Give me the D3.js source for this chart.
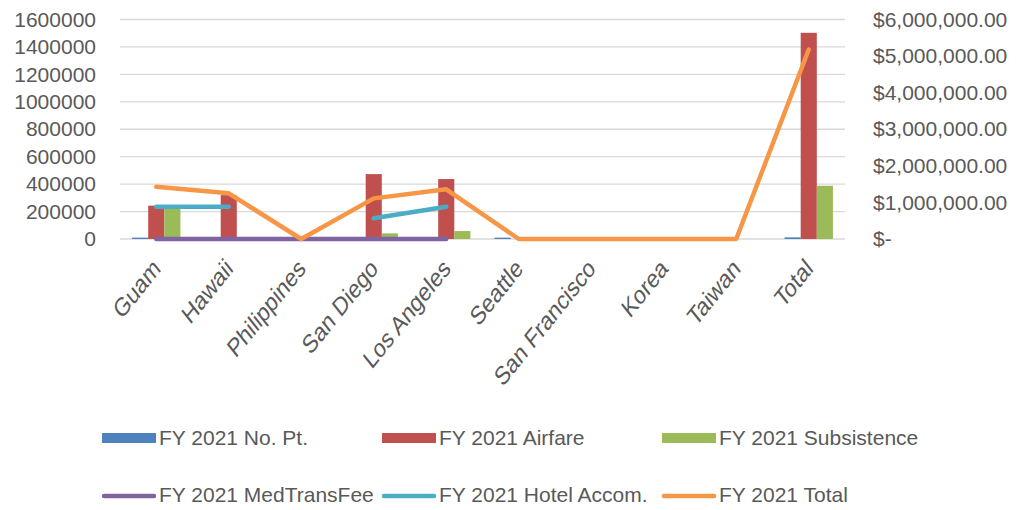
<!DOCTYPE html>
<html>
<head>
<meta charset="utf-8">
<script src="https://cdn.jsdelivr.net/npm/d3@7"></script>
<style>
  body { margin: 0; background: #fff; }
  svg { display: block; font-family: "Liberation Sans", Arial, sans-serif; }
</style>
</head>
<body>
<div id="chart"></div>
<script>
// values
var categories = ["Guam", "Hawaii", "Philippines", "San Diego", "Los Angeles", "Seattle", "San Francisco", "Korea", "Taiwan", "Total"];
var noPt        = [10000, 10000, 0, 10000, 10000, 10000, 0, 0, 0, 12000];
var airfare     = [243000, 320000, 0, 473000, 437000, 0, 0, 0, 0, 1503000];
var subsistence = [225000, 0, 0, 41000, 58000, 0, 0, 0, 0, 388000];
var medTransFee = [0, 0, 0, 0, 0, null, null, null, null, null];
var hotel       = [235000, 235000, null, 151000, 235000, null, null, null, null, null];
var fyTotal     = [1428000, 1248000, 0, 1110000, 1357000, 0, 0, 0, 0, 5180000];

var leftTicks  = [0, 200000, 400000, 600000, 800000, 1000000, 1200000, 1400000, 1600000];
var rightTicks = [0, 1000000, 2000000, 3000000, 4000000, 5000000, 6000000];

var barSeries = [
    { name: "FY 2021 No. Pt.", values: noPt, color: "#4f81bd" },
    { name: "FY 2021 Airfare", values: airfare, color: "#c0504d" },
    { name: "FY 2021 Subsistence", values: subsistence, color: "#9bbb59" }
];
var lineSeries = [
    { name: "FY 2021 MedTransFee", values: medTransFee, color: "#8064a2", axis: "left" },
    { name: "FY 2021 Hotel Accom.", values: hotel, color: "#4bacc6", axis: "left" },
    { name: "FY 2021 Total", values: fyTotal, color: "#f79646", axis: "right" }
];

var width = 1031, height = 510;
var plot = { left: 120, right: 845, top: 19.5, bottom: 239 };
var textColor = "#595959";
var fontSize = 21;

var svg = d3.select("#chart").append("svg")
    .attr("width", width)
    .attr("height", height);

var x = d3.scaleBand()
    .domain(categories)
    .range([plot.left, plot.right]);

// gap width 150% -> 3 bars + 1.5 bar of gap per category
var xInner = d3.scaleBand()
    .domain(barSeries.map(s => s.name))
    .range([0, x.bandwidth() * 3 / 4.5]);
var groupOffset = x.bandwidth() * 0.75 / 4.5;

var yLeft = d3.scaleLinear().domain([0, 1600000]).range([plot.bottom, plot.top]);
var yRight = d3.scaleLinear().domain([0, 6000000]).range([plot.bottom, plot.top]);

// gridlines
svg.append("g")
    .selectAll("line")
    .data(leftTicks)
    .enter()
    .append("line")
    .attr("x1", plot.left)
    .attr("x2", plot.right)
    .attr("y1", d => yLeft(d))
    .attr("y2", d => yLeft(d))
    .style("stroke", "#d9d9d9")
    .style("stroke-width", 1.3);

// left axis
var gLeft = svg.append("g")
    .attr("transform", "translate(" + plot.left + ",0)")
    .call(d3.axisLeft(yLeft).tickValues(leftTicks).tickFormat(d3.format("d")).tickSize(0).tickPadding(24));
gLeft.select(".domain").remove();
gLeft.selectAll("text")
    .style("font-size", fontSize + "px")
    .style("font-family", "'Liberation Sans', Arial, sans-serif")
    .style("fill", textColor);

// right axis
var money = d3.format(",.2f");
var gRight = svg.append("g")
    .attr("transform", "translate(" + plot.right + ",0)")
    .call(d3.axisRight(yRight).tickValues(rightTicks)
        .tickFormat(d => d === 0 ? "$-" : "$" + money(d))
        .tickSize(0).tickPadding(28));
gRight.select(".domain").remove();
gRight.selectAll("text")
    .style("font-size", fontSize + "px")
    .style("font-family", "'Liberation Sans', Arial, sans-serif")
    .style("fill", textColor);

// category labels, rotated (the source is a bit squeezed sideways, so squeeze too)
svg.append("g")
    .selectAll("text")
    .data(categories)
    .enter()
    .append("text")
    .attr("transform", d => "translate(" + (x(d) + x.bandwidth() / 2 + 5.5) + ",270) scale(0.8,1) rotate(-45)")
    .attr("text-anchor", "end")
    .style("font-size", "26px")
    .style("fill", textColor)
    .text(d => d);

// bars
barSeries.forEach(function (s) {
    svg.append("g")
        .selectAll("rect")
        .data(s.values)
        .enter()
        .append("rect")
        .attr("x", (d, i) => x(categories[i]) + groupOffset + xInner(s.name))
        .attr("width", xInner.bandwidth())
        .attr("y", d => yLeft(d))
        .attr("height", d => yLeft(0) - yLeft(d))
        .style("fill", s.color);
});

// lines
lineSeries.forEach(function (s) {
    var yScale = s.axis === "right" ? yRight : yLeft;
    var line = d3.line()
        .defined(d => d !== null)
        .x((d, i) => x(categories[i]) + x.bandwidth() / 2)
        .y(d => yScale(d));
    svg.append("path")
        .datum(s.values)
        .attr("d", line)
        .style("fill", "none")
        .style("stroke", s.color)
        .style("stroke-width", 4.5)
        .style("stroke-linecap", "round")
        .style("stroke-linejoin", "round");
});

// legend
var legendItems = barSeries.map(s => ({ name: s.name, color: s.color, type: "bar" }))
    .concat(lineSeries.map(s => ({ name: s.name, color: s.color, type: "line" })));
var legendCols = [102, 382, 662];
var legendRows = [438, 495];

var legend = svg.append("g")
    .selectAll("g")
    .data(legendItems)
    .enter()
    .append("g")
    .attr("transform", (d, i) => "translate(" + legendCols[i % 3] + "," + legendRows[Math.floor(i / 3)] + ")");

legend.filter(d => d.type === "bar")
    .append("rect")
    .attr("x", 0)
    .attr("y", -5)
    .attr("width", 54)
    .attr("height", 10)
    .style("fill", d => d.color);

legend.filter(d => d.type === "line")
    .append("line")
    .attr("x1", 2)
    .attr("x2", 52)
    .attr("y1", 1)
    .attr("y2", 1)
    .style("stroke", d => d.color)
    .style("stroke-width", 4.5)
    .style("stroke-linecap", "round");

legend.append("text")
    .attr("x", 57)
    .attr("y", 0)
    .attr("dy", "0.35em")
    .style("font-size", fontSize + "px")
    .style("fill", textColor)
    .text(d => d.name);
</script>
</body>
</html>
